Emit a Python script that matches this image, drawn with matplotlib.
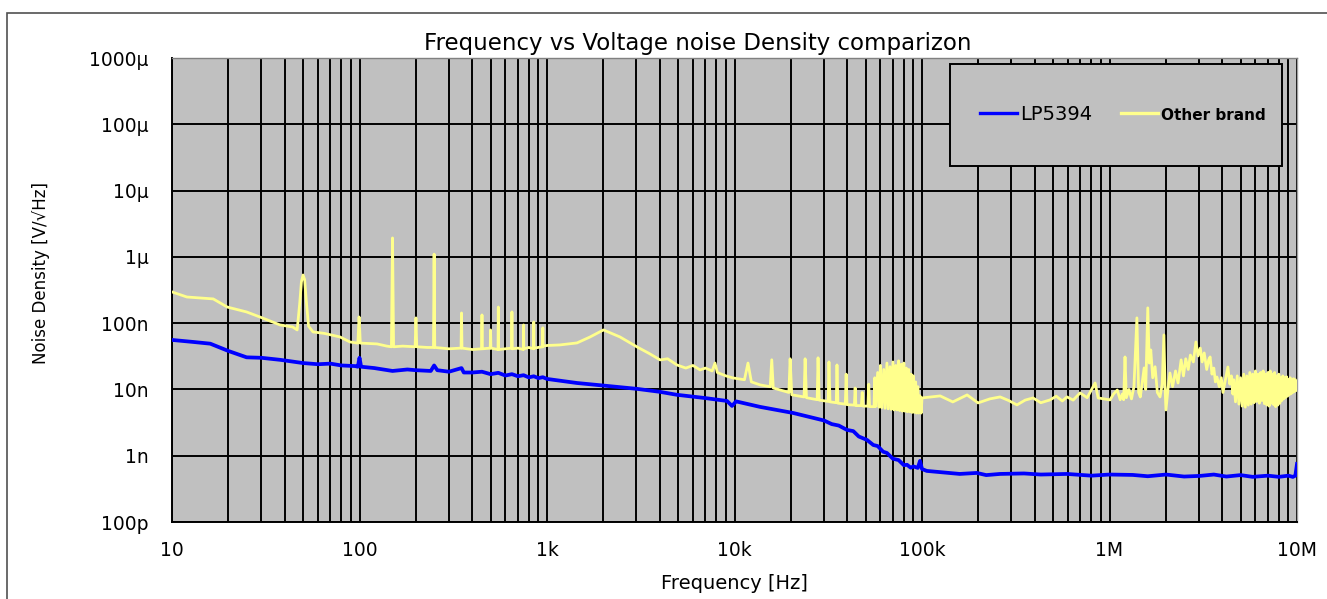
import matplotlib
matplotlib.use("Agg")
import matplotlib.pyplot as plt
from matplotlib.lines import Line2D
from matplotlib.patches import Rectangle
from matplotlib.ticker import LogLocator, NullLocator, FixedLocator, FixedFormatter

plt.rcParams['font.family'] = ['DejaVu Sans']

# ---------------- data ----------------
title = "Frequency vs Voltage noise Density comparizon"
x_label = "Frequency [Hz]"
y_label = "Noise Density [V/\u221aHz]"
series_names = ["LP5394", "Other brand"]

x_ticks = [1e1, 1e2, 1e3, 1e4, 1e5, 1e6, 1e7]
x_tick_labels = ["10", "100", "1k", "10k", "100k", "1M", "10M"]
y_ticks = [1e-10, 1e-9, 1e-8, 1e-7, 1e-6, 1e-5, 1e-4, 1e-3]
y_tick_labels = ["100p", "1n", "10n", "100n", "1\u00b5", "10\u00b5", "100\u00b5", "1000\u00b5"]

# LP5394 (blue)
lp_freq = [10, 13, 16, 20, 25, 30, 38, 50, 60, 70, 80, 95, 98, 100, 102, 120, 150, 180,
           200, 240, 250, 260, 300, 350, 360, 400, 450, 500, 550, 600, 650, 700, 750,
           800, 850, 900, 950, 1000,
           1445, 2090, 3020, 4000, 4930, 7000, 9120, 9700, 10200, 13700, 20500,
           30000, 33000, 36000, 39800, 43000, 46000, 50900, 55000, 58000, 62000, 65000,
           70000, 75000, 80000, 83200, 87000, 90000, 95000, 97600,
           100000, 106000, 159000, 196000, 220000, 261000, 350000, 430000, 593000,
           800000, 1.0e6, 1.33e6, 1.6e6, 2.0e6, 2.5e6, 3.04e6, 3.6e6, 4.2e6, 5.0e6,
           5.8e6, 7.0e6, 8.0e6, 9.0e6, 9.5e6, 9.8e6, 1.0e7]
lp_density = [5.58e-8, 5.2e-8, 4.9e-8, 3.8e-8, 3.05e-8, 3.0e-8, 2.79e-8, 2.5e-8, 2.4e-8,
              2.45e-8, 2.3e-8, 2.25e-8, 2.2e-8, 3.0e-8, 2.2e-8, 2.1e-8, 1.9e-8, 2.0e-8,
              1.95e-8, 1.9e-8, 2.3e-8, 1.95e-8, 1.85e-8, 2.1e-8, 1.8e-8, 1.8e-8, 1.85e-8,
              1.7e-8, 1.78e-8, 1.62e-8, 1.7e-8, 1.58e-8, 1.64e-8,
              1.52e-8, 1.58e-8, 1.48e-8, 1.53e-8, 1.44e-8,
              1.25e-8, 1.13e-8, 1.02e-8, 9.2e-9, 8.3e-9, 7.4e-9, 6.7e-9, 5.64e-9, 6.6e-9,
              5.45e-9, 4.42e-9,
              3.4e-9, 3.0e-9, 2.85e-9, 2.45e-9, 2.35e-9, 1.95e-9, 1.73e-9, 1.45e-9, 1.4e-9,
              1.15e-9, 1.1e-9,
              9.0e-10, 8.6e-10, 7.2e-10, 7.3e-10, 6.6e-10, 6.9e-10, 6.55e-10, 8.35e-10,
              6.3e-10, 5.9e-10, 5.31e-10, 5.5e-10, 5.1e-10, 5.31e-10, 5.4e-10, 5.2e-10,
              5.31e-10, 5.0e-10, 5.2e-10, 5.13e-10, 4.9e-10, 5.2e-10, 4.85e-10, 4.96e-10,
              5.2e-10, 4.85e-10, 5.1e-10, 4.8e-10, 5.0e-10, 4.8e-10, 5.0e-10, 4.79e-10,
              5.0e-10, 7.52e-10]

# Other brand (yellow)
ob_freq = [10, 12, 16.6, 19.7, 25, 29.4, 37.7, 44, 46.5, 48, 49, 50, 51, 52, 53.5,
           56.5, 65, 78.7, 89, 98, 99.5, 101, 124, 140, 148, 150, 152, 170, 198, 200, 202,
           230, 248, 250, 252, 300, 348, 350, 352, 400, 448, 450, 452, 498, 500, 502,
           548, 550, 552, 600, 648, 650, 652, 700, 748, 750, 752, 800, 848, 850, 852,
           900, 948, 950, 952, 1000,
           1170, 1445, 1700, 2000, 2450, 3020, 3500, 4010, 4400, 4930, 5500, 6000, 6550,
           7000, 7600, 7870, 8100, 9000,
           9820, 11300, 11800, 12300, 13700, 15500, 15800, 16100, 19500, 19800, 20200,
           23500, 23800, 24200, 27600, 27900, 28300, 31600, 31900, 32300, 34900, 35200,
           35600, 39000, 39400, 39800, 43600, 44000, 44400, 47500, 48000, 48500, 51500,
           52000, 52500, 55500, 56000, 56500,
           58000, 59000, 60000, 61000, 62500, 63500, 65000, 66000, 67500, 68500, 70000,
           71000, 72500, 73500, 75000, 76000, 77500, 78500, 80000, 81000, 82500, 83500,
           85000, 86000, 87500, 88500, 90000, 91000, 92500, 93500, 95000, 96000, 97500,
           99000,
           100000, 125000, 146000, 174000, 199000, 230000, 261000, 290000, 321000,
           355000, 391000, 430000, 482000, 520000, 560000, 593000, 640000, 697000,
           760000, 838000, 870000,
           1.007e6, 1.05e6, 1.10e6, 1.14e6, 1.17e6, 1.19e6, 1.21e6, 1.23e6, 1.27e6,
           1.31e6, 1.35e6, 1.40e6, 1.43e6, 1.46e6, 1.50e6, 1.53e6, 1.56e6, 1.60e6,
           1.63e6, 1.66e6, 1.70e6, 1.75e6, 1.80e6, 1.86e6, 1.91e6, 1.95e6, 1.98e6, 2.0e6,
           2.05e6, 2.10e6, 2.17e6, 2.25e6, 2.32e6, 2.41e6, 2.48e6, 2.55e6, 2.63e6, 2.7e6,
           2.8e6, 2.89e6, 2.97e6, 3.05e6, 3.12e6, 3.2e6, 3.3e6, 3.38e6, 3.44e6, 3.52e6,
           3.6e6, 3.67e6, 3.74e6, 3.85e6, 3.95e6, 4.03e6, 4.15e6, 4.28e6, 4.38e6, 4.47e6,
           4.55e6,
           4.6e6, 4.7e6, 4.8e6, 4.9e6, 5.0e6, 5.1e6, 5.2e6, 5.3e6, 5.4e6, 5.5e6,
           5.6e6, 5.7e6, 5.8e6, 5.9e6, 6.0e6, 6.1e6, 6.2e6, 6.3e6, 6.4e6, 6.5e6,
           6.6e6, 6.7e6, 6.8e6, 6.9e6, 7.0e6, 7.1e6, 7.2e6, 7.3e6, 7.4e6, 7.5e6,
           7.6e6, 7.7e6, 7.8e6, 7.9e6, 8.0e6, 8.1e6, 8.2e6, 8.3e6, 8.4e6, 8.5e6,
           8.6e6, 8.7e6, 8.8e6, 8.9e6, 9.0e6, 9.1e6, 9.2e6, 9.3e6, 9.4e6, 9.5e6,
           9.6e6, 9.7e6, 9.8e6, 9.9e6, 1.0e7]
ob_density = [2.96e-7, 2.48e-7, 2.32e-7, 1.75e-7, 1.475e-7, 1.24e-7, 9.39e-8, 8.76e-8,
              7.9e-8, 2.0e-7, 4.2e-7, 5.33e-7, 4.5e-7, 2.2e-7, 9.0e-8,
              7.37e-8, 7.0e-8, 6.19e-8, 5.2e-8, 5.0e-8, 1.24e-7, 5.0e-8, 4.86e-8, 4.5e-8,
              4.4e-8, 1.93e-6, 4.4e-8, 4.5e-8, 4.4e-8, 1.2e-7, 4.4e-8,
              4.3e-8, 4.3e-8, 1.1e-6, 4.3e-8, 4.1e-8, 4.2e-8, 1.425e-7, 4.2e-8, 4.0e-8,
              4.1e-8, 1.33e-7, 4.1e-8, 4.2e-8, 7.9e-8, 4.2e-8,
              4.0e-8, 1.75e-7, 4.0e-8, 4.1e-8, 4.2e-8, 1.475e-7, 4.1e-8, 4.2e-8, 4.0e-8,
              9.4e-8, 4.1e-8, 4.3e-8, 4.1e-8, 1.04e-7, 4.2e-8,
              4.3e-8, 4.4e-8, 8.5e-8, 4.5e-8, 4.6e-8,
              4.69e-8, 5.03e-8, 6.2e-8, 7.9e-8, 6.19e-8, 4.38e-8, 3.5e-8, 2.79e-8, 2.9e-8,
              2.34e-8, 2.1e-8, 2.3e-8, 1.97e-8,
              2.1e-8, 1.9e-8, 2.5e-8, 1.8e-8, 1.6e-8,
              1.49e-8, 1.4e-8, 2.5e-8, 1.3e-8, 1.17e-8, 1.1e-8, 2.8e-8, 1.05e-8, 9.0e-9,
              2.9e-8, 8.3e-9,
              7.7e-9, 2.9e-8, 7.5e-9, 7.0e-9, 3.0e-8, 6.9e-9, 6.6e-9, 2.6e-8, 6.5e-9,
              6.3e-9, 2.34e-8,
              6.2e-9, 6.0e-9, 1.7e-8, 5.9e-9, 5.8e-9, 1.05e-8, 5.7e-9, 5.7e-9, 9.0e-9,
              5.6e-9, 5.6e-9,
              1.2e-8, 5.5e-9, 5.5e-9, 1.5e-8, 5.5e-9,
              1.8e-8, 5.4e-9, 2.3e-8, 5.3e-9, 2.0e-8, 5.2e-9, 2.5e-8, 5.1e-9, 2.2e-8,
              5.0e-9, 2.6e-8,
              4.9e-9, 2.3e-8, 4.9e-9, 2.7e-8, 4.8e-9, 2.4e-8, 4.7e-9, 2.5e-8, 4.7e-9,
              2.1e-8, 4.6e-9,
              2.0e-8, 4.6e-9, 1.7e-8, 4.5e-9, 1.6e-8, 4.5e-9, 1.3e-8, 4.4e-9, 1.1e-8,
              4.4e-9, 8.0e-9,
              4.4e-9,
              7.44e-9, 7.98e-9, 6.48e-9, 8.26e-9, 6.26e-9, 7.2e-9, 7.71e-9, 6.8e-9, 5.84e-9,
              6.9e-9, 7.44e-9, 6.3e-9, 6.95e-9, 7.9e-9, 6.7e-9, 7.71e-9, 6.9e-9, 8.86e-9,
              7.5e-9, 1.25e-8, 7.44e-9,
              6.95e-9, 8.5e-9, 9.8e-9, 7.0e-9, 8.5e-9, 7.0e-9, 3.09e-8, 7.5e-9, 1.0e-8,
              7.2e-9, 1.1e-8, 1.2e-7, 9.0e-9, 7.7e-9, 1.4e-8, 2.11e-8, 1.0e-8, 1.7e-7,
              2.5e-8, 3.94e-8, 1.5e-8, 2.2e-8, 9.0e-9, 7.7e-9, 1.2e-8, 6.64e-8, 1.0e-8, 4.9e-9,
              1.0e-8, 1.77e-8, 1.1e-8, 1.9e-8, 1.25e-8, 2.79e-8, 1.6e-8, 2.9e-8, 2.0e-8, 3.3e-8,
              2.6e-8, 5.2e-8, 3.2e-8, 4.2e-8, 2.6e-8, 3.55e-8, 2.0e-8, 2.8e-8, 3.09e-8, 1.7e-8,
              2.1e-8, 1.3e-8, 1.54e-8, 1.1e-8, 1.5e-8, 9.0e-9, 1.4e-8, 2.18e-8, 1.2e-8, 1.6e-8,
              8.5e-9,
              1.4e-8, 6.5e-9, 1.6e-8, 6.0e-9, 1.5e-8, 5.6e-9, 1.7e-8, 5.4e-9, 1.6e-8, 5.8e-9,
              1.8e-8, 6.0e-9, 1.7e-8, 6.3e-9, 1.9e-8, 6.6e-9, 1.7e-8, 6.2e-9, 1.8e-8, 6.8e-9,
              1.9e-8, 6.1e-9, 1.7e-8, 5.8e-9, 1.8e-8, 5.6e-9, 1.9e-8, 6.2e-9, 1.7e-8, 5.9e-9,
              1.8e-8, 5.5e-9, 1.6e-8, 5.8e-9, 1.7e-8, 6.2e-9, 1.5e-8, 6.8e-9, 1.6e-8, 7.2e-9,
              1.5e-8, 7.6e-9, 1.55e-8, 7.9e-9, 1.4e-8, 8.3e-9, 1.5e-8, 8.6e-9, 1.4e-8, 9.0e-9,
              1.45e-8, 9.3e-9, 1.4e-8, 9.6e-9, 1.3e-8]

# ---------------- styling ----------------
W, H = 1327, 599
fig = plt.figure(figsize=(W / 100, H / 100), dpi=100)
fig.patch.set_facecolor("white")

# outer frame
frame = Rectangle((7 / W, -0.05), 1.1, (H - 13) / H + 0.05, transform=fig.transFigure,
                  fill=False, edgecolor="#505050", linewidth=1.2, clip_on=False)
fig.patches.append(frame)

ax = fig.add_axes([172 / W, 1 - 522 / H, 1125 / W, 464 / H])
ax.set_facecolor("#c0c0c0")
ax.set_xscale("log")
ax.set_yscale("log")
ax.set_xlim(1e1, 1e7)
ax.set_ylim(1e-10, 1e-3)

ax.xaxis.set_major_locator(FixedLocator(x_ticks))
ax.xaxis.set_major_formatter(FixedFormatter(x_tick_labels))
ax.xaxis.set_minor_locator(LogLocator(base=10, subs=[2, 3, 4, 5, 6, 7, 8, 9], numticks=20))
ax.yaxis.set_major_locator(FixedLocator(y_ticks))
ax.yaxis.set_major_formatter(FixedFormatter(y_tick_labels))
ax.yaxis.set_minor_locator(NullLocator())

ax.set_axisbelow(True)
ax.grid(which="major", axis="both", color="black", linewidth=1.4)
ax.grid(which="minor", axis="x", color="black", linewidth=1.4)
ax.tick_params(axis="both", which="both", length=0)
ax.tick_params(axis="y", pad=17, labelsize=13.5, labelcolor="black")
ax.tick_params(axis="x", pad=14, labelsize=13.5, labelcolor="black")

for side in ["left", "bottom"]:
    ax.spines[side].set_color("black")
    ax.spines[side].set_linewidth(1.4)
ax.spines["top"].set_color("#808080")
ax.spines["top"].set_linewidth(1.0)
ax.spines["right"].set_color("#a0a0a0")
ax.spines["right"].set_linewidth(1.0)

blue = "#0000ff"
yellow = "#ffff8c"
ax.plot(ob_freq, ob_density, color=yellow, linewidth=2.0, zorder=3)
ax.plot(lp_freq, lp_density, color=blue, linewidth=2.7, zorder=4)

ax.set_title(title, fontsize=16.5, x=(698 - 172) / 1125, y=1.017, pad=0, color="black")
ax.set_xlabel(x_label, fontsize=14)
ax.xaxis.set_label_coords(0.5, -0.113)
ax.set_ylabel(y_label, fontsize=12)
ax.yaxis.set_label_coords(-0.108, 0.537)

# legend box
box = Rectangle(((950 - 172) / 1125, (522 - 166) / 464), (1282 - 950) / 1125, (166 - 64) / 464,
                transform=ax.transAxes, facecolor="#c0c0c0", edgecolor="black",
                linewidth=1.4, zorder=6)
ax.add_patch(box)
handles = [Line2D([], [], color=blue, linewidth=2.4),
           Line2D([], [], color=yellow, linewidth=2.4)]
leg = ax.legend(handles, series_names, loc="center left",
                bbox_to_anchor=((980 - 172) / 1125, (522 - 114) / 464),
                ncol=2, frameon=False, fontsize=14, borderpad=0, borderaxespad=0,
                handlelength=1.9, handletextpad=0.15, columnspacing=1.5)
leg.set_zorder(7)
txts = leg.get_texts()
txts[1].set_fontsize(11)
txts[1].set_fontweight("bold")

fig.savefig("out.png", dpi=100, facecolor="white")
